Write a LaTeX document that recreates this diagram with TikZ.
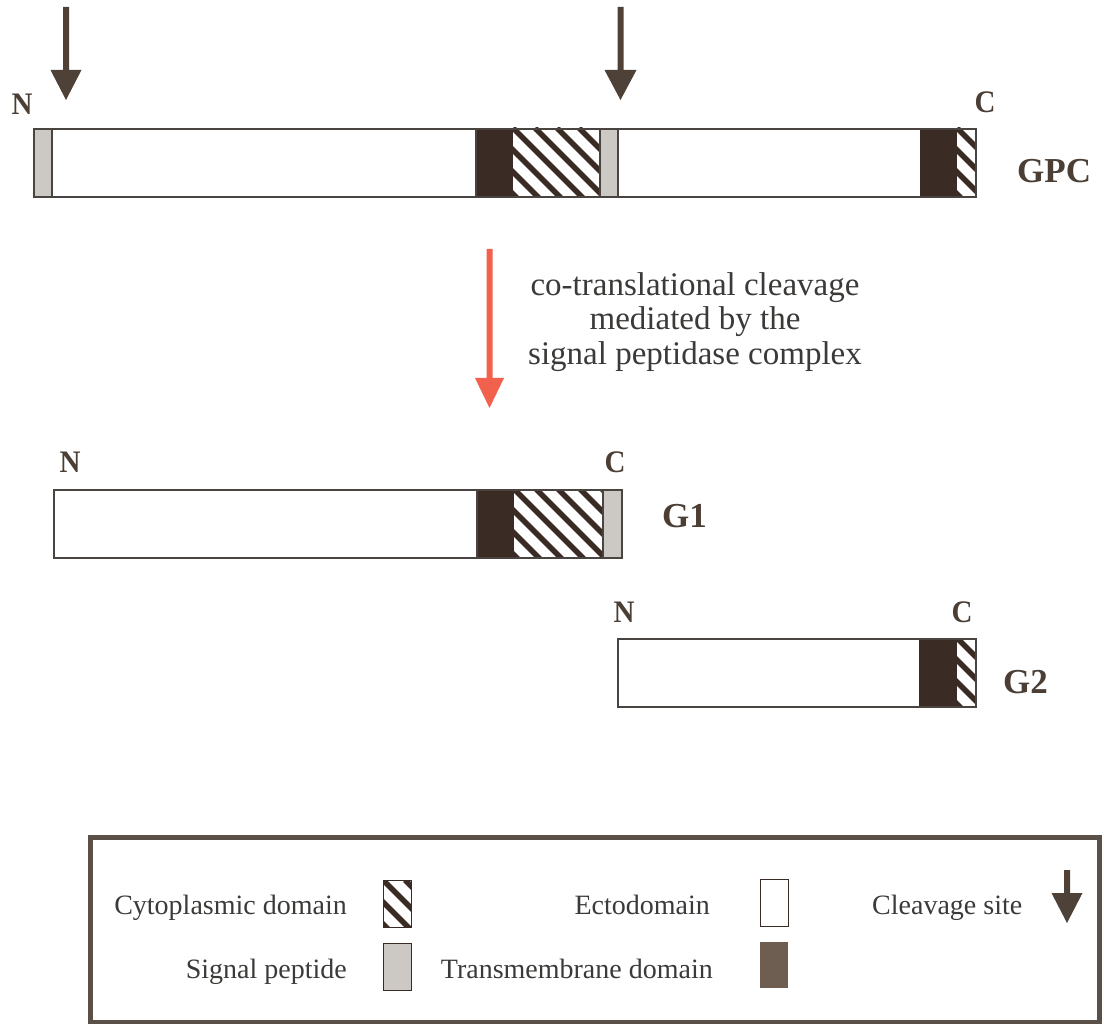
\documentclass[tikz,border=0pt]{standalone}
\usepackage{fontspec}
\usepackage{graphicx}
\setmainfont{Liberation Serif}
\definecolor{edgecol}{HTML}{4A4440}
\definecolor{tmcol}{HTML}{3A2B24}
\definecolor{tmlight}{HTML}{6E5E52}
\definecolor{spcol}{HTML}{CCC8C3}
\definecolor{arrcol}{HTML}{4E4238}
\definecolor{txtcol}{HTML}{3C3A38}
\definecolor{lblcol}{HTML}{4A3E35}
\definecolor{redarr}{HTML}{F2604E}
\definecolor{boxcol}{HTML}{5A5048}
\newcommand\hatchbox[4]{%
  \begin{scope}
    \clip (#1,#2) rectangle (#3,#4);
    \fill[white] (#1,#2) rectangle (#3,#4);
    \foreach \k in {-5,...,6} \draw[line width=5.5pt,tmcol] ({#1+\k*22},#2) -- ++(120,120);
  \end{scope}}
\newcommand\blockarrow[7]{% x, ytop, yheadtop, ytip, halfshaft, halfhead, colour
  \fill[#7] ({#1-#5},#2) -- ({#1+#5},#2) -- ({#1+#5},#3) -- ({#1+#6},#3) -- (#1,#4) -- ({#1-#6},#3) -- ({#1-#5},#3) -- cycle;}
\newcommand\talllbl[1]{\scalebox{1}[1.08]{#1}}
\tikzset{
  protbar/.style={draw=edgecol,line width=1.6pt},
  termlbl/.style={font=\fontsize{29}{30}\selectfont\bfseries,text=lblcol,anchor=base,inner sep=0pt},
  protname/.style={font=\fontsize{35}{36}\selectfont\bfseries,text=lblcol,anchor=base west,inner sep=0pt},
  legtxt/.style={font=\fontsize{28}{30}\selectfont,text=txtcol,inner sep=0pt},
  midtxt/.style={font={\fontsize{33}{34.5}\selectfont},text=txtcol,inner sep=0pt,align=center}
}
\begin{document}
\begin{tikzpicture}[x=1pt,y=-1pt]
\useasboundingbox (0,0) rectangle (1104,1024);

% ---------- GPC ----------
\fill[spcol] (33,128) rectangle (52,196);
\fill[white] (52,128) rectangle (476,196);
\fill[tmcol] (476,128) rectangle (513,196);
\hatchbox{513}{128}{600}{196}
\fill[spcol] (600,128) rectangle (618,196);
\fill[white] (618,128) rectangle (920,196);
\fill[tmcol] (920,128) rectangle (957,196);
\hatchbox{957}{128}{975}{196}
\draw[edgecol,line width=1.2pt] (52,128) -- (52,196) (476,128) -- (476,196) (600,128) -- (600,196) (618,128) -- (618,196);
\node[protbar,minimum width=942pt,minimum height=68pt,anchor=north west,inner sep=0pt] (gpc) at (33,128) {};
\node[termlbl] (gpcN) at (22,115) {\talllbl{N}};
\node[termlbl] (gpcC) at (985,113) {\talllbl{C}};
\node[protname] (gpcname) at (1017,183) {GPC};

% cleavage site arrows
\coordinate (cs1) at (66,7);
\coordinate (cs2) at (620.5,7);
\blockarrow{66}{7}{70}{100}{3}{15.5}{arrcol}
\blockarrow{620.5}{7}{70}{100}{3}{16}{arrcol}

% ---------- red processing arrow ----------
\coordinate (redtop) at (489.5,249);
\blockarrow{489.5}{249}{378}{408}{3}{14.5}{redarr}
\node[midtxt,anchor=north] (midtext) at (695,272)
  {co-translational cleavage\\mediated by the\\signal peptidase complex};

% ---------- G1 ----------
\fill[white] (53,489) rectangle (477,557);
\fill[tmcol] (477,489) rectangle (514,557);
\hatchbox{514}{489}{603}{557}
\fill[spcol] (603,489) rectangle (621,557);
\draw[edgecol,line width=1.2pt] (477,489) -- (477,557) (603,489) -- (603,557);
\node[protbar,minimum width=568pt,minimum height=68pt,anchor=north west,inner sep=0pt] (g1) at (53,489) {};
\node[termlbl] (g1N) at (70,472) {\talllbl{N}};
\node[termlbl] (g1C) at (615,472) {\talllbl{C}};
\node[protname] (g1name) at (662,527) {G1};

% ---------- G2 ----------
\fill[white] (617,638) rectangle (919,706);
\fill[tmcol] (919,638) rectangle (957,706);
\hatchbox{957}{638}{975}{706}
\node[protbar,minimum width=358pt,minimum height=68pt,anchor=north west,inner sep=0pt] (g2) at (617,638) {};
\node[termlbl] (g2N) at (624,622) {\talllbl{N}};
\node[termlbl] (g2C) at (962,622) {\talllbl{C}};
\node[protname] (g2name) at (1003,693) {G2};

% ---------- legend ----------
\node[draw=boxcol,line width=4.5pt,minimum width=1009pt,minimum height=185pt,anchor=north west,inner sep=0pt] (legend) at (88,835) {};
\node[legtxt,anchor=base east] (lcyto) at (347,914) {Cytoplasmic domain};
\hatchbox{383}{880}{411}{927}
\node[draw=tmcol,line width=1.4pt,minimum width=28pt,minimum height=47pt,anchor=north west,inner sep=0pt] (icyto) at (383,880) {};
\node[legtxt,anchor=base east] (lsp) at (347,978) {Signal peptide};
\node[draw=tmcol,line width=1.4pt,fill=spcol,minimum width=28pt,minimum height=47pt,anchor=north west,inner sep=0pt] (isp) at (383,943) {};
\node[legtxt,anchor=base east] (lecto) at (710,914) {Ectodomain};
\node[draw=tmcol,line width=1.4pt,fill=white,minimum width=28pt,minimum height=47pt,anchor=north west,inner sep=0pt] (iecto) at (760,879) {};
\node[legtxt,anchor=base east] (ltm) at (713,978) {Transmembrane domain};
\node[fill=tmlight,minimum width=28pt,minimum height=46pt,anchor=north west,inner sep=0pt] (itm) at (760,942) {};
\node[legtxt,anchor=base west] (lcs) at (872,914) {Cleavage site};
\blockarrow{1067}{870}{893}{923}{3}{15.5}{arrcol}
\end{tikzpicture}
\end{document}
